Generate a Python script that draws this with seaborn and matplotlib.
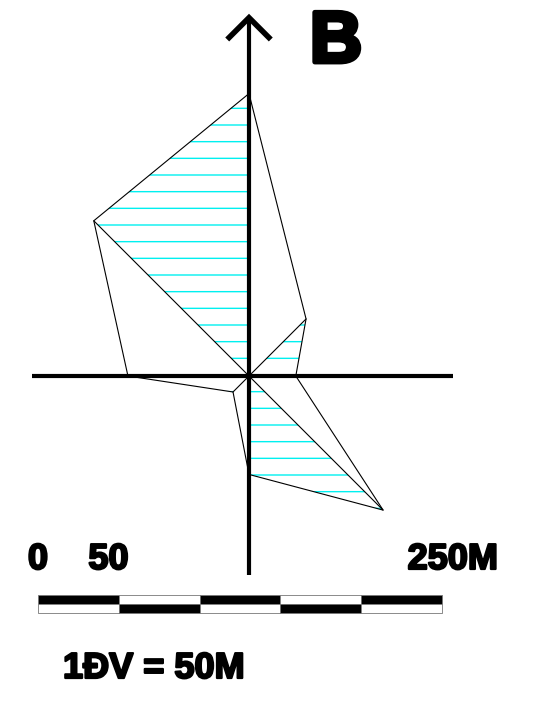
import numpy as np
import matplotlib
matplotlib.use("Agg")
import matplotlib.pyplot as plt
import matplotlib.patheffects as pe
import seaborn as sns

# Wind-rose style diagram: length of each direction in units (1 unit = 50 m)
directions = ["N", "NE", "E", "SE", "S", "SW", "W", "NW"]
angles_deg = [90, 45, 0, -45, -90, -135, 180, 135]
lengths = [3.5, 1.0, 0.58, 2.35, 1.22, 0.28, 1.5, 2.72]
hatched_pairs = [("NW", "N"), ("NE", "E"), ("SE", "S"), ("SW", "W")]

# scale bar
scale_marks_m = [0, 50, 100, 150, 200, 250]
metres_per_unit = 50
scale_labels = ["0", "50", "250M"]
scale_note = "1ĐV = 50M"
title = "B"

sns.set_theme(style="white")
plt.rcParams["font.family"] = ["Liberation Sans", "DejaVu Sans"]
plt.rcParams["text.color"] = "black"
plt.rcParams["hatch.linewidth"] = 1.0

W_PX, H_PX = 549, 701
PX = 80.7          # pixels per unit
CX, CY = 249, 376  # origin in pixels

fig = plt.figure(figsize=(W_PX / 100, H_PX / 100), dpi=100)
ax = fig.add_axes([0, 0, 1, 1])
ax.set_xlim(-CX / PX, (W_PX - CX) / PX)
ax.set_ylim(-(H_PX - CY) / PX, CY / PX)
ax.set_aspect("equal", adjustable="box")
ax.axis("off")

ang = np.deg2rad(angles_deg)
vx = np.array(lengths) * np.cos(ang)
vy = np.array(lengths) * np.sin(ang)
pts = {d: (x, y) for d, x, y in zip(directions, vx, vy)}

# hatched sectors
for a, b in hatched_pairs:
    tri = np.array([(0, 0), pts[a], pts[b]])
    ax.fill(tri[:, 0], tri[:, 1], facecolor="none", edgecolor="#00f0f0",
            linewidth=0, hatch="-", zorder=1)

# outline polygon
ox = np.append(vx, vx[0])
oy = np.append(vy, vy[0])
sns.lineplot(x=ox, y=oy, sort=False, estimator=None, color="black",
             linewidth=0.8, ax=ax, zorder=3)

# spokes to each vertex
for x, y in zip(vx, vy):
    ax.plot([0, x], [0, y], color="black", linewidth=0.8, zorder=3)

# axes with arrow
ax.plot([0, 0], [-2.47, 4.43], color="black", linewidth=3.0, zorder=4,
        solid_capstyle="butt")
ax.plot([-2.69, 2.53], [0, 0], color="black", linewidth=3.0, zorder=4,
        solid_capstyle="butt")
ax.plot([-0.27, 0, 0.27], [4.17, 4.44, 4.17], color="black", linewidth=4.0,
        zorder=4, solid_capstyle="butt", solid_joinstyle="miter")

# scale bar
bar_x0 = -2.61
bar_top, bar_h = -2.714, 0.111
seg_pos = [bar_x0 + m / metres_per_unit for m in scale_marks_m]
for i in range(len(seg_pos) - 1):
    top_col = "black" if i % 2 == 0 else "white"
    bot_col = "white" if i % 2 == 0 else "black"
    w = seg_pos[i + 1] - seg_pos[i]
    ax.bar(seg_pos[i], bar_h, width=w, bottom=bar_top - bar_h, align="edge",
           color=top_col, edgecolor="#777777", linewidth=0.6, zorder=2)
    ax.bar(seg_pos[i], bar_h, width=w, bottom=bar_top - 2 * bar_h,
           align="edge", color=bot_col, edgecolor="#777777", linewidth=0.6,
           zorder=2)

def fx(px):
    return px / W_PX

def fy(py):
    return 1 - py / H_PX

heavy = [pe.withStroke(linewidth=1.6, foreground="black")]
heavy_big = [pe.withStroke(linewidth=3.5, foreground="black")]

fig.text(fx(336), fy(62), title, fontsize=52, fontweight="bold",
         ha="center", va="baseline", path_effects=heavy_big)
fig.text(fx(38), fy(569), scale_labels[0], fontsize=26, fontweight="bold",
         ha="center", va="baseline", path_effects=heavy)
fig.text(fx(108.5), fy(569), scale_labels[1], fontsize=26, fontweight="bold",
         ha="center", va="baseline", path_effects=heavy)
fig.text(fx(498), fy(569), scale_labels[2], fontsize=26, fontweight="bold",
         ha="right", va="baseline", path_effects=heavy)
fig.text(fx(63), fy(678), scale_note, fontsize=26, fontweight="bold",
         ha="left", va="baseline", path_effects=heavy)

fig.savefig("out.png", dpi=100, facecolor="white")
plt.close(fig)
